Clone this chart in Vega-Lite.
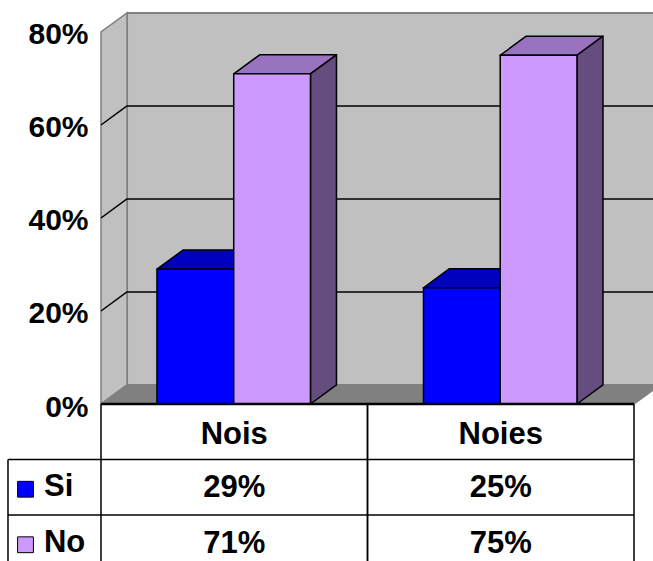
{
  "$schema": "https://vega.github.io/schema/vega-lite/v6.json",
  "padding": 0,
  "spacing": 0,
  "bounds": "flush",
  "background": "white",
  "config": {"view": {"stroke": null}, "font": "Liberation Sans"},
  "datasets": {
    "respostes": [
      {"grup": "Nois", "resposta": "Si", "valor": 29},
      {"grup": "Nois", "resposta": "No", "valor": 71},
      {"grup": "Noies", "resposta": "Si", "valor": 25},
      {"grup": "Noies", "resposta": "No", "valor": 75}
    ],
    "escala": [{"v": 0}, {"v": 20}, {"v": 40}, {"v": 60}, {"v": 80}]
  },
  "vconcat": [
    {
      "width": 653,
      "height": 404,
      "layer": [
        {
          "data": {"name": "escala"},
          "transform": [
            {"filter": "datum.v === 80"},
            {"calculate": "0.0976", "as": "xa"},
            {"calculate": "2.0976", "as": "xb"},
            {"calculate": "4.1", "as": "ya"},
            {"calculate": "datum.v + 4.1", "as": "yb"}
          ],
          "mark": {"type": "rect", "fill": "#C0C0C0", "stroke": "#808080", "strokeWidth": 2, "clip": true},
          "encoding": {
            "x": {"field": "xa", "type": "quantitative", "scale": {"domain": [-0.379, 2.0713], "nice": false, "zero": false}, "axis": null},
            "x2": {"field": "xb"},
            "y": {
              "field": "ya", "type": "quantitative",
              "scale": {"domain": [0, 86.88], "nice": false, "zero": false},
              "axis": {
                "values": [0, 20, 40, 60, 80],
                "labelExpr": "datum.value + '%'",
                "domain": false, "ticks": false, "grid": false, "title": null,
                "offset": -101, "labelPadding": 13,
                "labelFont": "Liberation Sans", "labelFontWeight": "bold", "labelFontSize": 30, "labelColor": "black",
                "labelFlush": false, "labelOverlap": false, "labelOffset": 3
              }
            },
            "y2": {"field": "yb"}
          }
        },
        {
          "data": {"values": [{"pla": "paret"}, {"pla": "terra"}]},
          "transform": [
            {"calculate": "[0, 1, 2, 3]", "as": "k"},
            {"flatten": ["k"]},
            {"calculate": "datum.pla === 'paret' ? [0, 0, 0.0976, 0.0976][datum.k] : [0, 2, 2.0976, 0.0976][datum.k]", "as": "px"},
            {"calculate": "datum.pla === 'paret' ? [0, 80, 84.1, 4.1][datum.k] : [0, 0, 4.1, 4.1][datum.k]", "as": "py"}
          ],
          "mark": {"type": "line", "filled": true, "interpolate": "linear-closed", "stroke": "#808080", "strokeWidth": 1.5, "clip": true},
          "encoding": {
            "x": {"field": "px", "type": "quantitative"},
            "y": {"field": "py", "type": "quantitative"},
            "order": {"field": "k", "type": "quantitative"},
            "detail": {"field": "pla", "type": "nominal"},
            "color": {
              "field": "pla", "type": "nominal", "legend": null,
              "scale": {
                "domain": ["paret", "terra", "Si", "No", "Si-dalt", "Si-costat", "No-dalt", "No-costat"],
                "range": ["#C0C0C0", "#808080", "#0000FF", "#CC99FF", "#0000C0", "#000080", "#9973BF", "#664D80"]
              }
            }
          }
        },
        {
          "data": {"name": "escala"},
          "transform": [
            {"filter": "datum.v > 0 && datum.v < 80"},
            {"calculate": "datum.v + 4.1", "as": "vf"},
            {"calculate": "0.0976", "as": "xa"},
            {"calculate": "2.0976", "as": "xb"}
          ],
          "mark": {"type": "rule", "color": "black", "strokeWidth": 1.5, "clip": true},
          "encoding": {
            "x": {"field": "xa", "type": "quantitative"},
            "x2": {"field": "xb"},
            "y": {"field": "vf", "type": "quantitative"}
          }
        },
        {
          "data": {"name": "escala"},
          "transform": [
            {"filter": "datum.v > 0 && datum.v < 80"},
            {"calculate": "datum.v + 4.1", "as": "vf"},
            {"calculate": "0", "as": "xa"},
            {"calculate": "0.0976", "as": "xb"}
          ],
          "mark": {"type": "rule", "color": "black", "strokeWidth": 1.5},
          "encoding": {
            "x": {"field": "xa", "type": "quantitative"},
            "x2": {"field": "xb"},
            "y": {"field": "v", "type": "quantitative"},
            "y2": {"field": "vf"}
          }
        },
        {
          "data": {"name": "respostes"},
          "transform": [
            {"calculate": "datum.grup === 'Nois' ? 0 : 1", "as": "gi"},
            {"calculate": "datum.resposta === 'Si' ? 0 : 1", "as": "si"},
            {"calculate": "datum.gi + 0.21 + datum.si * 0.288", "as": "x0"},
            {"calculate": "datum.x0 + 0.288", "as": "x1"},
            {"calculate": "['dalt', 'costat']", "as": "cara"},
            {"flatten": ["cara"]},
            {"calculate": "[0, 1, 2, 3]", "as": "k"},
            {"flatten": ["k"]},
            {"calculate": "datum.cara === 'dalt' ? [datum.x0, datum.x1, datum.x1 + 0.0976, datum.x0 + 0.0976][datum.k] : [datum.x1, datum.x1, datum.x1 + 0.0976, datum.x1 + 0.0976][datum.k]", "as": "px"},
            {"calculate": "datum.cara === 'dalt' ? [datum.valor, datum.valor, datum.valor + 4.1, datum.valor + 4.1][datum.k] : [0, datum.valor, datum.valor + 4.1, 4.1][datum.k]", "as": "py"},
            {"calculate": "datum.resposta + '-' + datum.cara", "as": "tint"},
            {"calculate": "datum.grup + '-' + datum.tint", "as": "cara_id"}
          ],
          "mark": {"type": "line", "filled": true, "interpolate": "linear-closed", "stroke": "black", "strokeWidth": 1.5, "strokeJoin": "round"},
          "encoding": {
            "x": {"field": "px", "type": "quantitative"},
            "y": {"field": "py", "type": "quantitative"},
            "order": {"field": "k", "type": "quantitative"},
            "detail": {"field": "cara_id", "type": "nominal"},
            "color": {"field": "tint", "type": "nominal", "legend": null}
          }
        },
        {
          "data": {"name": "respostes"},
          "transform": [
            {"calculate": "datum.grup === 'Nois' ? 0 : 1", "as": "gi"},
            {"calculate": "datum.resposta === 'Si' ? 0 : 1", "as": "si"},
            {"calculate": "datum.gi + 0.21 + datum.si * 0.288", "as": "x0"},
            {"calculate": "datum.x0 + 0.288", "as": "x1"},
            {"calculate": "0", "as": "base"}
          ],
          "mark": {"type": "rect", "stroke": "black", "strokeWidth": 1.5},
          "encoding": {
            "x": {"field": "x0", "type": "quantitative"},
            "x2": {"field": "x1"},
            "y": {"field": "base", "type": "quantitative"},
            "y2": {"field": "valor"},
            "color": {"field": "resposta", "type": "nominal", "legend": null}
          }
        }
      ]
    },
    {
      "width": 653,
      "height": 157,
      "layer": [
        {
          "data": {"name": "respostes"},
          "transform": [
            {"filter": "datum.resposta === 'Si'"},
            {"calculate": "datum.grup === 'Nois' ? 0 : 1", "as": "gi"},
            {"calculate": "[datum.gi, datum.gi + 1]", "as": "vx"},
            {"flatten": ["vx"]},
            {"calculate": "0", "as": "ya"},
            {"calculate": "2.8288", "as": "yb"}
          ],
          "mark": {"type": "rule", "color": "black", "strokeWidth": 1.5},
          "encoding": {
            "x": {"field": "vx", "type": "quantitative", "scale": {"domain": [-0.379, 2.0713], "nice": false, "zero": false}, "axis": null},
            "y": {"field": "ya", "type": "quantitative", "scale": {"domain": [0, 2.8288], "reverse": true, "nice": false, "zero": false}, "axis": null},
            "y2": {"field": "yb"}
          }
        },
        {
          "data": {"name": "respostes"},
          "transform": [
            {"filter": "datum.grup === 'Nois'"},
            {"calculate": "datum.resposta === 'Si' ? 1 : 2", "as": "fila"},
            {"calculate": "-0.349", "as": "xa"},
            {"calculate": "2", "as": "xb"}
          ],
          "mark": {"type": "rule", "color": "black", "strokeWidth": 1.5},
          "encoding": {
            "x": {"field": "xa", "type": "quantitative"},
            "x2": {"field": "xb"},
            "y": {"field": "fila", "type": "quantitative"}
          }
        },
        {
          "data": {"name": "respostes"},
          "transform": [
            {"filter": "datum.grup === 'Nois' && datum.resposta === 'Si'"},
            {"calculate": "-0.349", "as": "xa"},
            {"calculate": "1", "as": "ya"},
            {"calculate": "2.8288", "as": "yb"}
          ],
          "mark": {"type": "rule", "color": "black", "strokeWidth": 1.5},
          "encoding": {
            "x": {"field": "xa", "type": "quantitative"},
            "y": {"field": "ya", "type": "quantitative"},
            "y2": {"field": "yb"}
          }
        },
        {
          "data": {"name": "respostes"},
          "transform": [
            {"filter": "datum.grup === 'Nois' && datum.resposta === 'Si'"},
            {"calculate": "0", "as": "xa"},
            {"calculate": "2", "as": "xb"},
            {"calculate": "0", "as": "ya"}
          ],
          "mark": {"type": "rule", "color": "black", "strokeWidth": 2.5},
          "encoding": {
            "x": {"field": "xa", "type": "quantitative"},
            "x2": {"field": "xb"},
            "y": {"field": "ya", "type": "quantitative"}
          }
        },
        {
          "data": {"name": "respostes"},
          "transform": [
            {"filter": "datum.resposta === 'Si'"},
            {"calculate": "(datum.grup === 'Nois' ? 0 : 1) + 0.5", "as": "cx"},
            {"calculate": "0.5", "as": "cy"}
          ],
          "mark": {"type": "text", "font": "Liberation Sans", "fontWeight": "bold", "fontSize": 31, "baseline": "middle", "align": "center", "color": "black", "dy": 3},
          "encoding": {
            "x": {"field": "cx", "type": "quantitative"},
            "y": {"field": "cy", "type": "quantitative"},
            "text": {"field": "grup", "type": "nominal"}
          }
        },
        {
          "data": {"name": "respostes"},
          "transform": [
            {"calculate": "(datum.grup === 'Nois' ? 0 : 1) + 0.5", "as": "cx"},
            {"calculate": "datum.resposta === 'Si' ? 1.5 : 2.5", "as": "cy"},
            {"calculate": "datum.valor + '%'", "as": "etiqueta"}
          ],
          "mark": {"type": "text", "font": "Liberation Sans", "fontWeight": "bold", "fontSize": 31, "baseline": "middle", "align": "center", "color": "black", "dy": 1},
          "encoding": {
            "x": {"field": "cx", "type": "quantitative"},
            "y": {"field": "cy", "type": "quantitative"},
            "text": {"field": "etiqueta", "type": "nominal"}
          }
        },
        {
          "data": {"name": "respostes"},
          "transform": [
            {"filter": "datum.grup === 'Nois'"},
            {"calculate": "datum.resposta === 'Si' ? 1.5 : 2.5", "as": "cy"},
            {"calculate": "-0.214", "as": "cx"}
          ],
          "mark": {"type": "text", "font": "Liberation Sans", "fontWeight": "bold", "fontSize": 31, "baseline": "middle", "align": "left", "color": "black", "dy": 0},
          "encoding": {
            "x": {"field": "cx", "type": "quantitative"},
            "y": {"field": "cy", "type": "quantitative"},
            "text": {"field": "resposta", "type": "nominal"}
          }
        },
        {
          "data": {"name": "respostes"},
          "transform": [
            {"filter": "datum.grup === 'Nois'"},
            {"calculate": "datum.resposta === 'Si' ? 1.5 : 2.5", "as": "cy"},
            {"calculate": "-0.2833", "as": "cx"}
          ],
          "mark": {"type": "point", "shape": "square", "filled": true, "size": 250, "stroke": "black", "strokeWidth": 1, "opacity": 1, "yOffset": 2},
          "encoding": {
            "x": {"field": "cx", "type": "quantitative"},
            "y": {"field": "cy", "type": "quantitative"},
            "color": {
              "field": "resposta", "type": "nominal", "legend": null,
              "scale": {"domain": ["Si", "No"], "range": ["#0000FF", "#CC99FF"]}
            }
          }
        }
      ]
    }
  ]
}
